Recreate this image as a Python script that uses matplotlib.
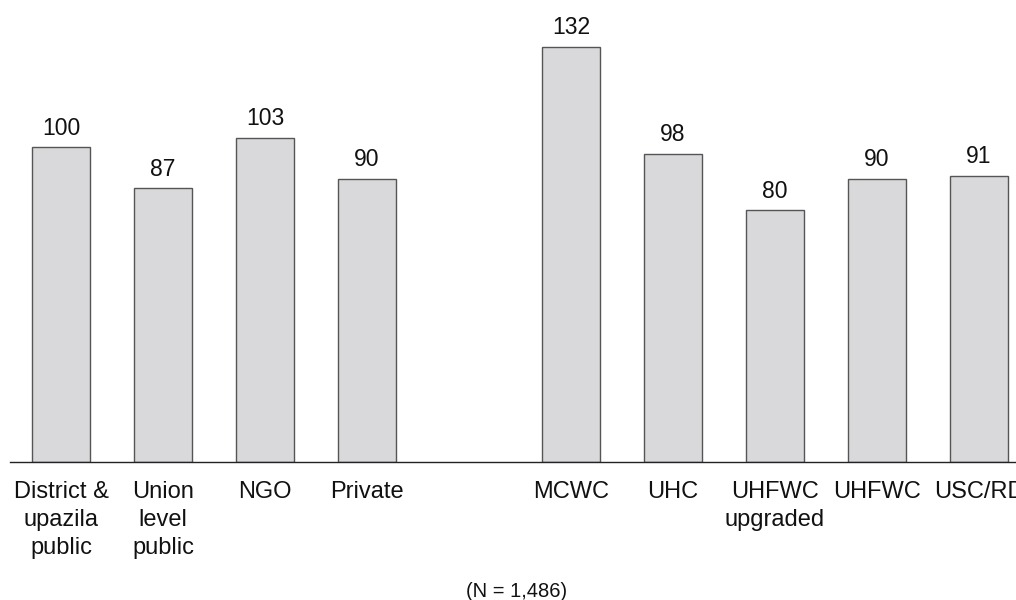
import matplotlib
matplotlib.use("Agg")
import matplotlib.pyplot as plt

# facility types and counts
categories = ["District &\nupazila\npublic", "Union\nlevel\npublic", "NGO", "Private",
              "MCWC", "UHC", "UHFWC\nupgraded", "UHFWC", "USC/RD"]
values = [100, 87, 103, 90, 132, 98, 80, 90, 91]
slots = [0, 1, 2, 3, 5, 6, 7, 8, 9]   # empty slot between the two groups
note = "(N = 1,486)"

plt.rcParams['font.family'] = ['Liberation Sans', 'DejaVu Sans']

fig = plt.figure(figsize=(10.16, 6.0), dpi=100)
ax = fig.add_axes([10 / 1016, 138 / 600, 1006 / 1016, 462 / 600])

ax.bar(slots, values, width=0.57, color='#d9d9db', edgecolor='#555555', linewidth=1.0, zorder=2)

for x, v in zip(slots, values):
    ax.annotate(str(v), (x, v), xytext=(0, 9), textcoords='offset points',
                ha='center', va='baseline', fontsize=16.5, color='#111111')

ax.set_xlim(-0.5, (1016 - 61) / 102 - 0.0)
ax.set_ylim(0, 462 / 3.146)

ax.set_xticks(slots)
ax.set_xticklabels(categories, fontsize=17, linespacing=1.33, color='#111111')
ax.tick_params(axis='x', length=0, pad=14)
ax.set_yticks([])

for s in ['top', 'right', 'left']:
    ax.spines[s].set_visible(False)
ax.spines['bottom'].set_color('#222222')
ax.spines['bottom'].set_linewidth(1.0)
ax.patch.set_visible(False)

fig.text(517 / 1016, 3 / 600, note, ha='center', va='baseline', fontsize=14.5, color='#111111')

fig.savefig('out.png', dpi=100)
